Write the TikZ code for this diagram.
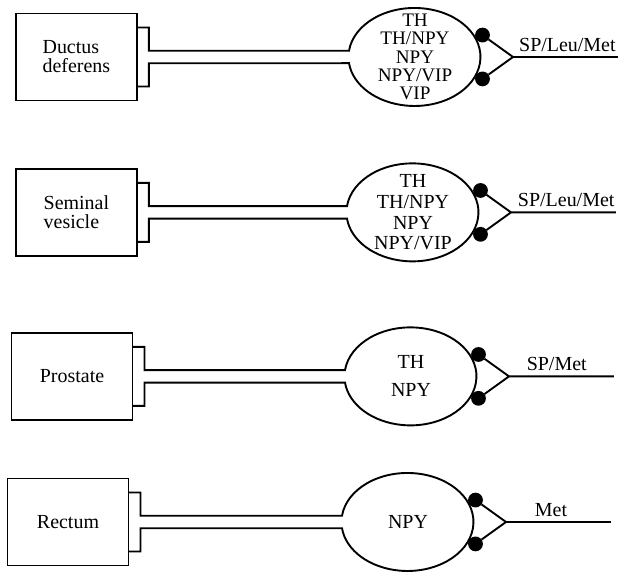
\documentclass[tikz,border=0pt]{standalone}
\usepackage{fontspec}
\setmainfont{Liberation Serif}
\usetikzlibrary{positioning,shapes.geometric}
\newcommand{\tubegap}{0.156cm}
\newcommand{\bulb}{arc[start angle=172.7,end angle=-172.7,x radius=1.65cm,y radius=1.225cm]}
\tikzset{
  organ/.style={draw,rectangle,minimum width=3.025cm,minimum height=2.175cm,inner sep=0pt,outer sep=0pt,align=left,font=\fontsize{14.2}{13.5}\selectfont},
  tab/.style={rectangle,minimum width=0.3cm,minimum height=1.475cm,inner sep=0pt,outer sep=0pt},
  gang/.style={ellipse,minimum width=3.3cm,minimum height=2.45cm,inner sep=0pt,outer sep=0pt},
  peptides/.style={align=center,inner sep=0pt},
  knob/.style={circle,fill,minimum size=0.37cm,inner sep=0pt,outer sep=0pt},
  tag/.style={inner sep=0pt,font=\fontsize{14.2}{14.2}\selectfont}
}
\begin{document}
\begin{tikzpicture}[line width=1.35pt]
\useasboundingbox (0,0) rectangle (15.5,14.3);
\node[organ] (box1) at (1.91,12.875) {Ductus\\deferens};
\node[tab,right=0pt of box1] (tab1) {};
\node[gang,label={[peptides,font=\fontsize{13.6}{12.9}\selectfont]center:{TH\\TH/NPY\\NPY\\NPY/VIP\\VIP}}] (gang1) at (10.375,12.875) {};
\draw (tab1.north west) -- (tab1.north east) -- ([yshift=\tubegap]tab1.east) -- ([yshift=\tubegap]gang1.west) \bulb -- ([yshift=-\tubegap]tab1.east) -- (tab1.south east) -- (tab1.south west);
\node[knob,anchor=198] (knob1a) at (gang1.18) {};
\node[knob,anchor=162] (knob1b) at (gang1.-18) {};
\coordinate[right=0.8cm of gang1.east] (tip1);
\coordinate[right=2.62cm of tip1] (end1);
\draw (knob1a) -- (tip1) -- (knob1b) (tip1) -- (end1);
\node[tag,anchor=base west] (lab1) at ([shift={(0.13,0.14)}]tip1) {SP/Leu/Met};

\node[organ] (box2) at (1.91,8.99) {Seminal\\vesicle};
\node[tab,right=0pt of box2] (tab2) {};
\node[gang,label={[peptides,font=\fontsize{14.2}{14.7}\selectfont]center:{TH\\TH/NPY\\NPY\\NPY/VIP}}] (gang2) at (10.325,8.99) {};
\draw (tab2.north west) -- (tab2.north east) -- ([yshift=\tubegap]tab2.east) -- ([yshift=\tubegap]gang2.west) \bulb -- ([yshift=-\tubegap]tab2.east) -- (tab2.south east) -- (tab2.south west);
\node[knob,anchor=198] (knob2a) at (gang2.18) {};
\node[knob,anchor=162] (knob2b) at (gang2.-18) {};
\coordinate[right=0.8cm of gang2.east] (tip2);
\coordinate[right=2.62cm of tip2] (end2);
\draw (knob2a) -- (tip2) -- (knob2b) (tip2) -- (end2);
\node[tag,anchor=base west] (lab2) at ([shift={(0.15,0.14)}]tip2) {SP/Leu/Met};

\node[organ] (box3) at (1.8,4.89) {Prostate};
\node[tab,right=0pt of box3] (tab3) {};
\node[gang,label={[peptides,font=\fontsize{14.2}{19.9}\selectfont]center:{TH\\NPY}}] (gang3) at (10.275,4.89) {};
\draw (tab3.north west) -- (tab3.north east) -- ([yshift=\tubegap]tab3.east) -- ([yshift=\tubegap]gang3.west) \bulb -- ([yshift=-\tubegap]tab3.east) -- (tab3.south east) -- (tab3.south west);
\node[knob,anchor=198] (knob3a) at (gang3.18) {};
\node[knob,anchor=162] (knob3b) at (gang3.-18) {};
\coordinate[right=0.8cm of gang3.east] (tip3);
\coordinate[right=2.62cm of tip3] (end3);
\draw (knob3a) -- (tip3) -- (knob3b) (tip3) -- (end3);
\node[tag,anchor=base west] (lab3) at ([shift={(0.42,0.14)}]tip3) {SP/Met};

\node[organ] (box4) at (1.7,1.25) {Rectum};
\node[tab,right=0pt of box4] (tab4) {};
\node[gang,label={[peptides,font=\fontsize{14.2}{14.2}\selectfont]center:{NPY}}] (gang4) at (10.2,1.25) {};
\draw (tab4.north west) -- (tab4.north east) -- ([yshift=\tubegap]tab4.east) -- ([yshift=\tubegap]gang4.west) \bulb -- ([yshift=-\tubegap]tab4.east) -- (tab4.south east) -- (tab4.south west);
\node[knob,anchor=198] (knob4a) at (gang4.18) {};
\node[knob,anchor=162] (knob4b) at (gang4.-18) {};
\coordinate[right=0.8cm of gang4.east] (tip4);
\coordinate[right=2.62cm of tip4] (end4);
\draw (knob4a) -- (tip4) -- (knob4b) (tip4) -- (end4);
\node[tag,anchor=base west] (lab4) at ([shift={(0.7,0.14)}]tip4) {Met};
\end{tikzpicture}
\end{document}
